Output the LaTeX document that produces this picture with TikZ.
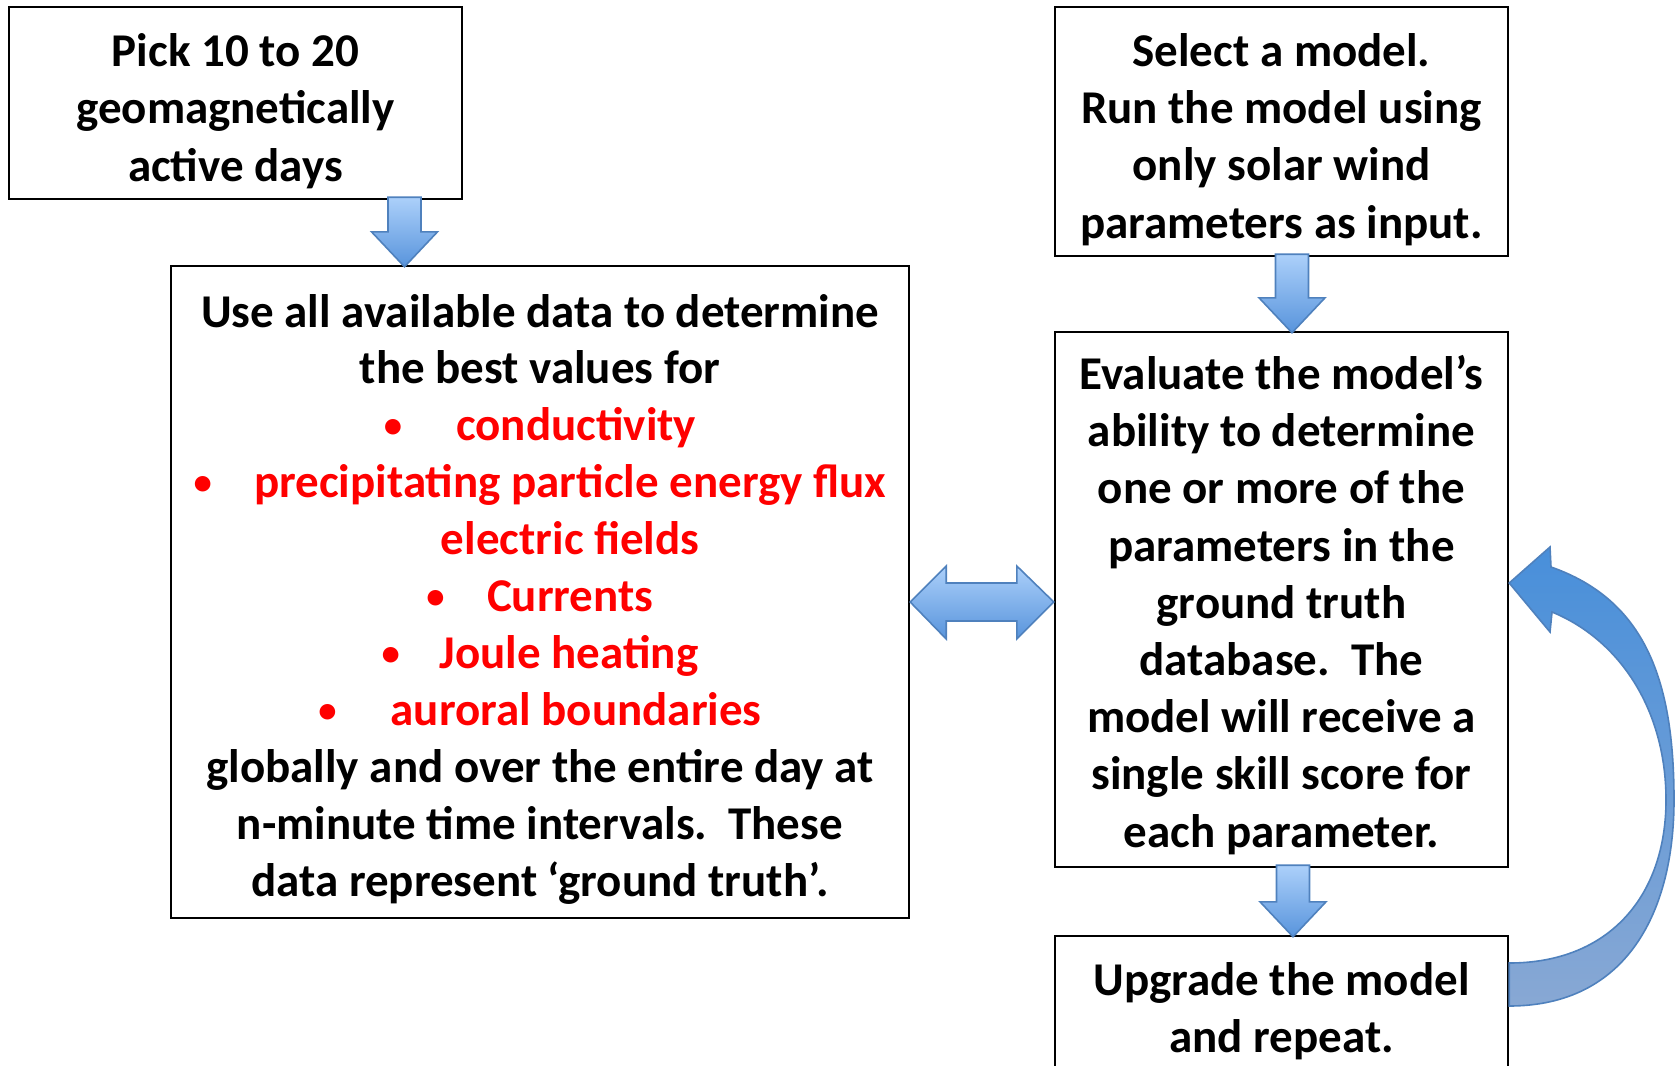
\documentclass[tikz,border=0pt]{standalone}
\usepackage{fontspec}
\usepackage{graphicx}
\setmainfont{Carlito}
\usetikzlibrary{calc}
\definecolor{arrowline}{RGB}{79,129,189}
\definecolor{arrowtop}{RGB}{172,208,250}
\definecolor{arrowbot}{RGB}{88,148,220}
\definecolor{curvetop}{RGB}{72,143,218}
\definecolor{curvebot}{RGB}{136,168,212}
\definecolor{txtred}{RGB}{255,0,0}
\newcommand\downblock[3]{%
  \coordinate (dt) at (#1,0 |- #2);
  \coordinate (db) at (#1,0 |- #3);
  \path[blockarrow] ($(dt)+(-16.5,-3)$) -- ($(dt)+(16.5,-3)$) -- ($(db)+(16.5,-33)$)
    -- ($(db)+(33,-33)$) -- ($(db)+(0,2)$) -- ($(db)+(-33,-33)$) -- ($(db)+(-16.5,-33)$) -- cycle;}
\newcommand\smallbullet{\raisebox{0.07em}{\scalebox{0.78}{\textbullet}}}
\newcommand\rb[2]{{\color{txtred}\smallbullet\hspace{#1}#2}}
\newcommand\firstup[1]{\rule{0pt}{#1}}
\begin{document}
\begin{tikzpicture}[x=0.5pt,y=-0.5pt,
  box/.style={draw=black,line width=1.2pt,fill=white,align=center,
    font=\fontsize{23.5}{28.6}\selectfont\bfseries,inner sep=0pt},
  blockarrow/.style={draw=arrowline,line width=0.8pt,top color=arrowtop,bottom color=arrowbot,line join=miter},
  curvearrow/.style={draw=arrowline,line width=0.8pt,top color=curvetop,bottom color=curvebot,line join=miter}]
\useasboundingbox (0,0) rectangle (1675,1065);

\node[box,minimum width=226.5pt,minimum height=96pt] (b1) at (235.5,103)
  {\firstup{24.5pt}Pick 10 to 20\\geomagnetically\\active days};

\node[box,minimum width=369pt,minimum height=326pt,
      font=\fontsize{23.5}{28.45}\selectfont\bfseries] (b2) at (540,592)
  {\firstup{23.5pt}Use all available data to determine\\
   the best values for\\
   \rb{1.15em}{conductivity}\\
   \rb{0.9em}{precipitating particle energy flux}\\
   {\color{txtred}\phantom{\smallbullet}\hspace{0.9em}electric fields}\\
   \rb{0.9em}{Currents}\\
   \rb{0.85em}{Joule heating}\\
   \rb{1.15em}{auroral boundaries}\\
   globally and over the entire day at\\
   n-minute time intervals.\hspace{0.45em}These\\
   data represent ‘ground truth’.};

\node[box,minimum width=226.5pt,minimum height=124.5pt] (b3) at (1281.5,131.5)
  {\firstup{24.5pt}Select a model.\\Run the model using\\only solar wind\\parameters as input.};

\node[box,minimum width=226.5pt,minimum height=267.5pt] (b4) at (1281.5,599.5)
  {\firstup{22.5pt}Evaluate the model’s\\ability to determine\\one or more of the\\parameters in the\\ground truth\\database.\hspace{0.45em}The\\model will receive a\\single skill score for\\each parameter.};

\node[box,minimum width=226.5pt,minimum height=71pt] (b5) at (1281.5,1007)
  {\firstup{21pt}Upgrade the model\\and repeat.};

% straight block arrows
\downblock{404.5}{b1.south}{b2.north}
\downblock{1292}{b3.south}{b4.north}
\downblock{1293}{b4.south}{b5.north}

% double arrow between b2 and b4
\coordinate (dl) at (b2.east |- 0,602);
\coordinate (dr) at (b4.west |- 0,602);
\path[blockarrow] (dl) -- ($(dl)+(36,-36)$) -- ($(dl)+(36,-19)$) -- ($(dr)+(-37,-19)$)
  -- ($(dr)+(-37,-36)$) -- (dr) -- ($(dr)+(-37,37)$) -- ($(dr)+(-37,19)$)
  -- ($(dl)+(36,19)$) -- ($(dl)+(36,37)$) -- cycle;

% curved arrow from b5 back to b4
\path[curvearrow] ($(b5.east)+(0,-1)$) .. controls (1628,1006) and (1674,910) .. (1674,800)
  .. controls (1674,680) and (1645,600) .. (1551,567) -- (1550,547)
  -- ($(b4.east)+(0,-16.5)$) -- (1550,632) -- (1552,612)
  .. controls (1620,640) and (1666,710) .. (1666,800)
  .. controls (1666,895) and (1610,963) .. ($(b5.east)+(0,-44)$) -- cycle;
\end{tikzpicture}
\end{document}
